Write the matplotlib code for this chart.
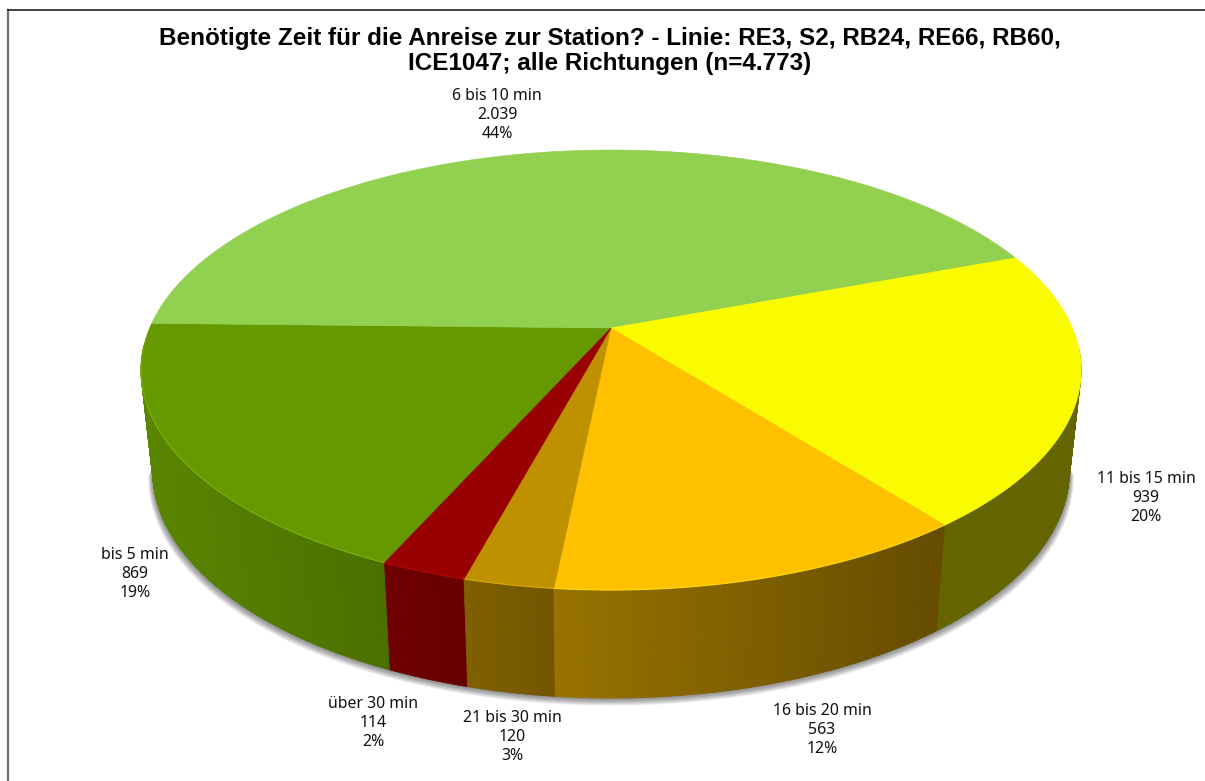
import numpy as np
import matplotlib
matplotlib.use("Agg")
import matplotlib.pyplot as plt
from matplotlib.collections import PolyCollection
from matplotlib.colors import to_rgb
from matplotlib.patches import Polygon

# Datos del grafico
categorias = ["bis 5 min", "6 bis 10 min", "11 bis 15 min", "16 bis 20 min", "21 bis 30 min", "über 30 min"]
valores = [869, 2039, 939, 563, 120, 114]
titulo = "Benötigte Zeit für die Anreise zur Station? - Linie: RE3, S2, RB24, RE66, RB60,\nICE1047; alle Richtungen (n=4.773)"

# Estilo y posiciones
colores = ["#669900", "#92D050", "#FAFA00", "#FFC000", "#BF9000", "#990000"]
pos_etiquetas = [(135, 574), (497, 115), (1146, 498), (822, 730), (512, 737), (373, 723)]
inicio = -156.1
cx, cy_elipse, cy_centro = 611.0, 370.0, 328.0
y_arriba, y_abajo, media_ancho = 150.0, 590.0, 470.0
desplaz, escala_x, escala_y = 101.0, 0.975, 1.032

# Proyeccion en perspectiva del circulo unidad
suma_y = 2 * cy_centro - y_abajo - y_arriba
r = suma_y / (y_abajo - y_arriba)
q = y_abajo * (1 + r) - cy_centro
a = media_ancho * np.sqrt(1 - r ** 2)


def proyectar(ang):
    t = np.radians(ang)
    X, Y = np.sin(t), -np.cos(t)
    w = 1 + r * Y
    return cx + a * X / w, (cy_centro + q * Y) / w


def base(x, y):
    return cx + (x - cx) * escala_x, cy_elipse + (y - cy_elipse) * escala_y + desplaz


def brillo(x):
    return np.interp(x, [150, 390, 550, 935], [0.87, 0.73, 0.6, 0.4])


fig = plt.figure(figsize=(12.05, 7.81), dpi=100)
ax = fig.add_axes([0, 0, 1, 1])
ax.set_xlim(0, 1205)
ax.set_ylim(781, 0)
ax.axis("off")

# Marco de la imagen
ax.plot([7.5, 7.5], [781, 9.5], color="#707070", lw=1.6, zorder=1)
ax.plot([7.5, 1205], [9.5, 9.5], color="#222222", lw=1.2, zorder=1)

angulos = inicio + np.cumsum([0] + valores) / sum(valores) * 360

# Sombra difusa bajo el pastel, solo en la parte delantera
vuelta = np.linspace(100, 260, 200)
xs, ys = proyectar(vuelta)
xb, yb = base(xs, ys)
for k in range(14, 0, -1):
    xsom = cx + (xb - cx) * (1 + 0.0007 * k)
    ysom = yb + 0.55 * k
    ax.add_patch(Polygon(np.column_stack([xsom, ysom]), closed=True, fc="#303030", ec="none", alpha=0.05, zorder=2))

# Paredes laterales, solo las que dan al frente, de atras hacia adelante
caras = []
tonos = []
for i in range(len(valores)):
    n = max(int((angulos[i + 1] - angulos[i]) * 2), 2)
    t = np.linspace(angulos[i], angulos[i + 1], n + 1)
    x1, y1 = proyectar(t)
    x2, y2 = base(x1, y1)
    for j in range(n):
        if not 95 < (t[j] % 360) < 265:
            continue
        caras.append([(x1[j], y1[j]), (x1[j + 1], y1[j + 1]), (x2[j + 1], y2[j + 1]), (x2[j], y2[j])])
        tonos.append(np.array(to_rgb(colores[i])) * brillo((x1[j] + x1[j + 1]) / 2))
orden = np.argsort([np.mean([p[1] for p in c]) for c in caras])
ax.add_collection(PolyCollection([caras[i] for i in orden], facecolors=[tonos[i] for i in orden],
                                 edgecolors=[tonos[i] for i in orden], linewidths=0.6, zorder=3))

# Cara superior
for i in range(len(valores)):
    t = np.linspace(angulos[i], angulos[i + 1], 200)
    x1, y1 = proyectar(t)
    px = np.concatenate([[cx], x1])
    py = np.concatenate([[cy_centro], y1])
    ax.add_patch(Polygon(np.column_stack([px, py]), closed=True, fc=colores[i], ec=colores[i], lw=0.4, zorder=4))
    # Brillo fino solo en el borde delantero
    frente = np.mod(t, 360)
    frente = (frente > 95) & (frente < 265)
    borde = tuple(np.minimum(np.array(to_rgb(colores[i])) * 1.15 + 0.04, 1))
    ax.plot(x1[frente], y1[frente], color=borde, lw=0.9, alpha=0.7, zorder=5)

ax.text(610, 51, titulo, ha="center", va="center", fontsize=17.5, fontweight="bold",
        family="Liberation Sans", linespacing=1.15, color="black", zorder=6)

# Etiquetas de datos
for nombre, v, (ex, ey) in zip(categorias, valores, pos_etiquetas):
    miles = f"{v:,}".replace(",", ".")
    pct = round(v / sum(valores) * 100)
    ax.text(ex, ey, f"{nombre}\n{miles}\n{pct}%", ha="center", va="center", fontsize=11.4,
            family="Noto Sans", linespacing=1.25, color="#111111", zorder=6)

fig.savefig("out.png", dpi=100)
